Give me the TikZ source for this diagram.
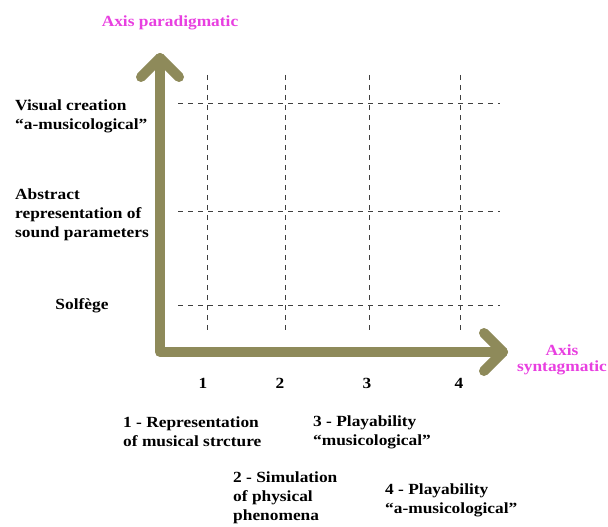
\documentclass[tikz,border=0pt]{standalone}
\usepackage{fontspec}
\setmainfont{Liberation Serif}[FakeStretch=1.12]
\usetikzlibrary{arrows.meta}
\definecolor{axiscol}{HTML}{8E8A5A}
\definecolor{pinkcol}{HTML}{E83FE0}
\tikzset{
  axisline/.style={draw=axiscol, line width=10pt, line cap=round, line join=round},
  gridline/.style={draw=black!75, line width=0.5pt, dash pattern=on 5pt off 5pt},
  lbl/.style={font=\fontsize{15.5}{19}\selectfont\bfseries, inner sep=0pt, align=left},
  pinklbl/.style={lbl, text=pinkcol, align=center},
}
\begin{document}
\begin{tikzpicture}[x=1pt,y=-1pt]
\useasboundingbox (0,0) rectangle (608,527);
% grid
\foreach \i/\x in {1/207,2/285,3/369,4/460}{
  \coordinate (vt\i) at (\x,75);
  \coordinate (vb\i) at (\x,330);
  \draw[gridline] (vt\i) -- (vb\i);
}
\foreach \i/\y in {1/103,2/211,3/305}{
  \coordinate (hl\i) at (178,\y);
  \coordinate (hr\i) at (500,\y);
  \draw[gridline] (hl\i) -- (hr\i);
}
% axes
\coordinate (origin) at (160,352);
\coordinate (ytip) at (160,58);
\coordinate (xtip) at (503,352);
\draw[axisline] (ytip) -- (origin) -- (xtip);
\draw[axisline] (141,77) -- (ytip) -- (179,77);
\draw[axisline] (484,333) -- (xtip) -- (484,371);
% axis labels
\node[pinklbl] (ap) at (170,23) {Axis paradigmatic};
\node[pinklbl] (as) at (562,360) {Axis\\[-3pt]syntagmatic};
% left labels
\node[lbl, anchor=west] (v) at (15,116) {Visual creation\\“a-musicological”};
\node[lbl, anchor=west] (a) at (15,215) {Abstract\\representation of\\sound parameters};
\node[lbl] (s) at (82,306) {Solfège};
% numbers
\node[lbl] (n1) at (203,383) {1};
\node[lbl] (n2) at (280,383) {2};
\node[lbl] (n3) at (367,383) {3};
\node[lbl] (n4) at (459,383) {4};
% bottom legends
\node[lbl, anchor=west] (l1) at (123,432) {1 - Representation\\of musical strcture};
\node[lbl, anchor=west] (l3) at (313,432) {3 - Playability\\“musicological”};
\node[lbl, anchor=west] (l2) at (233,498) {2 - Simulation\\of physical\\phenomena};
\node[lbl, anchor=west] (l4) at (385,500) {4 - Playability\\“a-musicological”};
\end{tikzpicture}
\end{document}
